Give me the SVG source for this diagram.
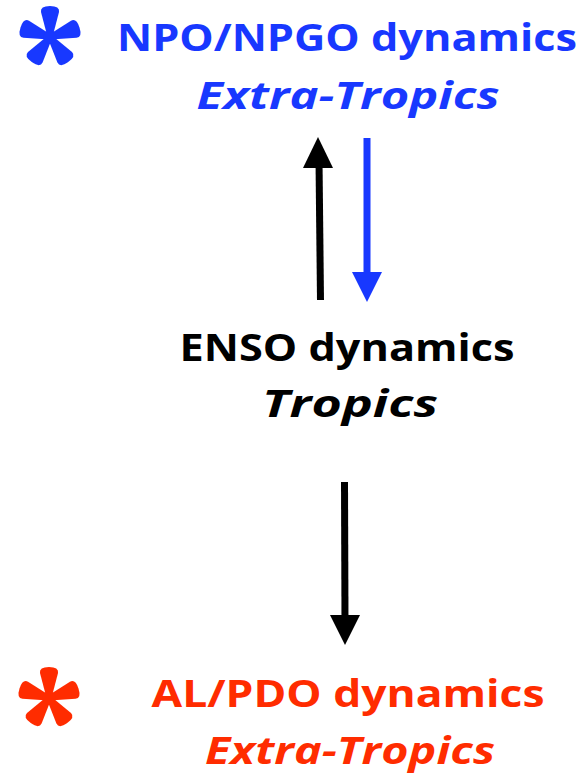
<svg xmlns="http://www.w3.org/2000/svg" xmlns:xlink="http://www.w3.org/1999/xlink" width="585" height="775" viewBox="0 0 585 775">
<style>
.t{font-family:"Open Sans","DejaVu Sans","Liberation Sans",sans-serif;font-weight:bold;font-size:38px;text-anchor:middle}
.i{font-style:italic}
.blue{fill:#1838FF}
.red{fill:#FF2C00}
.blk{fill:#000}
</style>
<defs>
<g id="star">
<path id="petal" d="M-2.5,0 L-9,-25 Q-10,-31 0,-31 Q10,-31 9,-25 L2.5,0 Z"/>
<use xlink:href="#petal" transform="rotate(72)"/>
<use xlink:href="#petal" transform="rotate(144)"/>
<use xlink:href="#petal" transform="rotate(216)"/>
<use xlink:href="#petal" transform="rotate(288)"/>
<circle r="6.5"/>
</g>
</defs>
<g id="npo">
<use xlink:href="#star" transform="translate(50,37)" class="blue"/>
<text class="t blue" x="347" y="51" textLength="460" lengthAdjust="spacingAndGlyphs">NPO/NPGO dynamics</text>
<text class="t i blue" x="348" y="109" textLength="303" lengthAdjust="spacingAndGlyphs">Extra-Tropics</text>
</g>
<g id="enso">
<text class="t blk" x="347" y="361" textLength="335" lengthAdjust="spacingAndGlyphs">ENSO dynamics</text>
<text class="t i blk" x="350" y="417" textLength="176" lengthAdjust="spacingAndGlyphs">Tropics</text>
</g>
<g id="al">
<use xlink:href="#star" transform="translate(49,698)" class="red"/>
<text class="t red" x="348" y="707" textLength="393" lengthAdjust="spacingAndGlyphs">AL/PDO dynamics</text>
<text class="t i red" x="350" y="764" textLength="290" lengthAdjust="spacingAndGlyphs">Extra-Tropics</text>
</g>
<g id="connectors">
<line x1="320.5" y1="300" x2="319" y2="160" stroke="#000" stroke-width="7"/>
<polygon points="318,137 333,168 303,168" fill="#000"/>
<line x1="367" y1="138" x2="367" y2="280" stroke="#1838FF" stroke-width="7"/>
<polygon points="367,302 382,272 352,272" fill="#1838FF"/>
<line x1="344.5" y1="482" x2="345" y2="622" stroke="#000" stroke-width="7"/>
<polygon points="345,645 360,615 330,615" fill="#000"/>
</g>
</svg>
